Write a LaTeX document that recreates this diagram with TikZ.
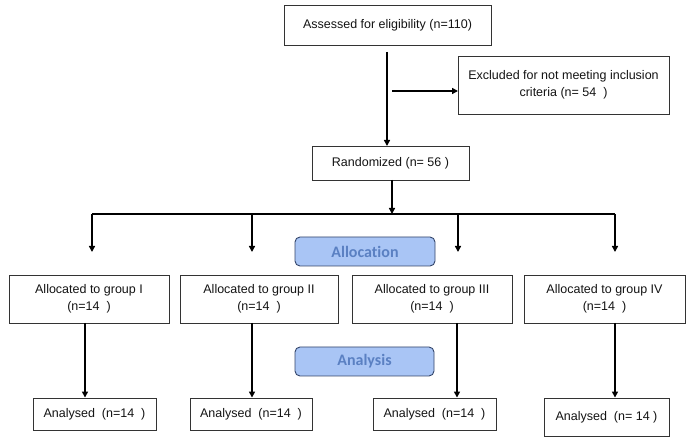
\documentclass[tikz,border=0pt]{standalone}
\usepackage{fontspec}
\setmainfont{Liberation Sans}
\newfontfamily\labfont[Ligatures=NoCommon]{Carlito}
\usetikzlibrary{arrows.meta}
\definecolor{txt}{HTML}{141414}
\definecolor{bord}{HTML}{333333}
\definecolor{phfill}{HTML}{A9C5F5}
\definecolor{phtext}{HTML}{5A80C2}
\definecolor{phbord}{HTML}{33456A}
\tikzset{
  box/.style={draw=bord, line width=0.9pt, fill=white, text=txt, align=center,
    inner sep=0pt, font=\fontsize{12.5}{17}\selectfont},
  phase/.style={draw=phbord, line width=0.9pt, fill=phfill, rounded corners=5pt,
    text=phtext, inner sep=0pt, font=\labfont\bfseries\fontsize{16}{18}\selectfont},
  arr/.style={line width=1.5pt, -{Triangle[width=6pt,length=6pt]}},
  ln/.style={line width=1.5pt}
}
\begin{document}
\begin{tikzpicture}[x=1pt,y=-1pt]
\useasboundingbox (0,0) rectangle (689,438);
% boxes
\node[box, minimum width=207pt, minimum height=40pt] (top) at (387.5,25) {Assessed for eligibility (n=110)};
\node[box, minimum width=211pt, minimum height=58pt] (excl) at (563.5,85) {Excluded for not meeting inclusion\\criteria (n= 54~~)};
\node[box, minimum width=157pt, minimum height=34pt] (rand) at (390.5,163) {Randomized (n= 56 )};
\node[phase, minimum width=140pt, minimum height=29pt] (alloc) at (365,251.5) {Allocation};
\node[phase, minimum width=139pt, minimum height=29pt] (anal) at (364.5,361.5) {Analysis};
\node[box, minimum width=160pt, minimum height=48pt] (g1) at (89,299) {Allocated to group I\\(n=14~~)};
\node[box, minimum width=158pt, minimum height=48pt] (g2) at (259,299) {Allocated to group II\\(n=14~~)};
\node[box, minimum width=160pt, minimum height=48pt] (g3) at (432,299) {Allocated to group III\\(n=14~~)};
\node[box, minimum width=161pt, minimum height=48pt] (g4) at (604.5,299) {Allocated to group IV\\(n=14~~)};
\node[box, minimum width=123pt, minimum height=32pt] (a1) at (94.5,414) {Analysed~~(n=14~~)};
\node[box, minimum width=122pt, minimum height=32pt] (a2) at (251,414) {Analysed~~(n=14~~)};
\node[box, minimum width=123pt, minimum height=32pt] (a3) at (434.5,414) {Analysed~~(n=14~~)};
\node[box, minimum width=125pt, minimum height=38pt] (a4) at (606.5,417) {Analysed~~(n= 14 )};
% coordinates
\coordinate (v0) at (387,52);
\coordinate (v1) at (387,146);
\coordinate (e0) at (392,91);
\coordinate (e1) at (458,91);
\coordinate (bL) at (92,214);
\coordinate (bR) at (615,214);
\coordinate (r0) at (392,180);
\coordinate (r1) at (392,214);
\coordinate (d1) at (92,252);
\coordinate (d2) at (252,252);
\coordinate (d3) at (458,252);
\coordinate (d4) at (615,252);
% connectors
\draw[arr] (v0) -- (v1);
\draw[arr] (e0) -- (e1);
\draw[arr] (r0) -- (r1);
\draw[ln] (bL) -- (bR);
\draw[arr] (bL) -- (d1);
\draw[arr] (d2 |- bL) -- (d2);
\draw[arr] (d3 |- bL) -- (d3);
\draw[arr] (bR) -- (d4);
\draw[arr] (85,323) -- (a1.north -| 85,0);
\draw[arr] (252,323) -- (a2.north -| 252,0);
\draw[arr] (457,323) -- (a3.north -| 457,0);
\draw[arr] (615,323) -- (a4.north -| 615,0);
\end{tikzpicture}
\end{document}
